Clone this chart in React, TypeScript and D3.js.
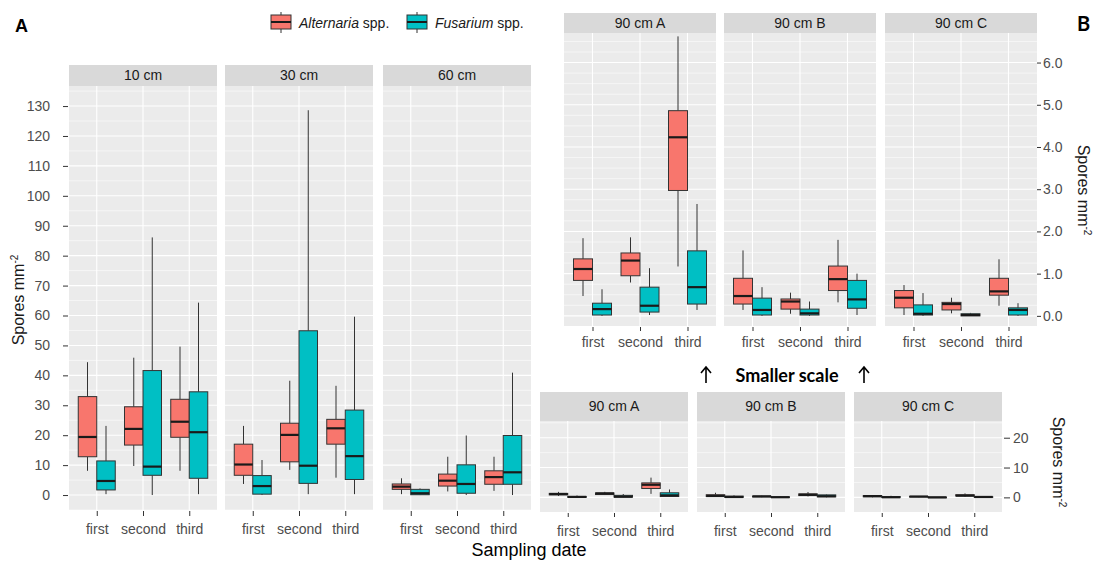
import React, { Component } from "react";
import * as d3 from "d3";

const dates = ["first", "second", "third"];
const species = ["Alternaria", "Fusarium"];

// each row: [lower whisker, Q1, median, Q3, upper whisker] for first, second, third
const alt10 = [[8.1, 12.8, 19.4, 32.9, 44.4], [9.7, 16.7, 22.1, 29.5, 45.9], [8.1, 19.3, 24.5, 32.0, 49.6]];
const fus10 = [[0.3, 1.7, 4.7, 11.4, 23.1], [0, 6.6, 9.5, 41.6, 86.1], [0.3, 5.6, 21.0, 34.5, 64.3]];
const alt30 = [[3.7, 6.6, 10.2, 17.0, 23.1], [8.4, 11.1, 20.1, 24.0, 38.2], [5.8, 17.0, 22.3, 25.3, 36.5]];
const fus30 = [[0, 0.3, 3.0, 6.5, 11.7], [0.3, 3.9, 9.8, 54.9, 128.6], [0.3, 5.2, 13.0, 28.4, 59.6]];
const alt60 = [[0.3, 1.9, 2.8, 3.7, 5.6], [1.2, 3.0, 4.8, 7.0, 12.8], [1.4, 3.6, 6.0, 8.1, 12.8]];
const fus60 = [[0, 0.1, 0.6, 1.9, 2.2], [0, 0.6, 3.7, 10.1, 19.9], [0, 3.6, 7.6, 19.9, 40.9]];
const alt90A = [[0.47, 0.84, 1.11, 1.35, 1.84], [0.79, 0.95, 1.31, 1.49, 1.86], [1.17, 2.97, 4.23, 4.86, 6.62]];
const fus90A = [[0, 0.02, 0.16, 0.3, 0.63], [0.02, 0.09, 0.24, 0.68, 1.13], [0.14, 0.28, 0.68, 1.54, 2.65]];
const alt90B = [[0.14, 0.28, 0.47, 0.89, 1.55], [0.05, 0.16, 0.34, 0.4, 0.55], [0.32, 0.6, 0.87, 1.18, 1.8]];
const fus90B = [[0, 0.02, 0.14, 0.42, 0.68], [0, 0.02, 0.06, 0.16, 0.34], [0.02, 0.18, 0.39, 0.84, 1.0]];
const alt90C = [[0.02, 0.19, 0.43, 0.6, 0.73], [0.06, 0.14, 0.28, 0.32, 0.43], [0.24, 0.49, 0.58, 0.89, 1.34]];
const fus90C = [[0, 0.02, 0.05, 0.26, 0.54], [0, 0, 0.02, 0.05, 0.07], [0, 0.02, 0.14, 0.19, 0.3]];

const ticksA = [0, 10, 20, 30, 40, 50, 60, 70, 80, 90, 100, 110, 120, 130];
const ticksB = [0, 1, 2, 3, 4, 5, 6];
const ticksBWide = [0, 10, 20];

const panelsA = [
  { name: "10 cm", alt: alt10, fus: fus10 },
  { name: "30 cm", alt: alt30, fus: fus30 },
  { name: "60 cm", alt: alt60, fus: fus60 },
];
const panels90 = [
  { name: "90 cm A", alt: alt90A, fus: fus90A },
  { name: "90 cm B", alt: alt90B, fus: fus90B },
  { name: "90 cm C", alt: alt90C, fus: fus90C },
];

const FILL = ["#F8766D", "#00BFC4"];
const FONT = "'Liberation Sans', Arial, sans-serif";

function styleAxis(g: any) {
  g.select(".domain").remove();
  g.selectAll(".tick line").attr("stroke", "#333");
  g.selectAll(".tick text")
    .attr("fill", "#4D4D4D")
    .attr("font-size", 14)
    .attr("font-family", FONT);
}

// one row of facets (background, grid, strip, boxes, x axis)
function drawFacets(svg: any, panels: any[], cfg: any) {
  const y = d3.scaleLinear().domain(cfg.yDomain).range([cfg.bottom, cfg.top]);
  const gridVals = d3.range(
    Math.ceil(cfg.yDomain[0] / cfg.minor) * cfg.minor,
    cfg.yDomain[1],
    cfg.minor
  );
  panels.forEach((p, i) => {
    const x0 = cfg.x0[i];
    const x = d3.scalePoint().domain(dates).range([x0, x0 + cfg.width]).padding(0.6);
    const step = x.step();
    const dodge = d3.scaleBand().domain(species).range([-step * 0.4, step * 0.4]);
    const bw = dodge.bandwidth();
    const g = svg.append("g");

    g.append("rect")
      .attr("x", x0)
      .attr("y", cfg.top)
      .attr("width", cfg.width)
      .attr("height", cfg.bottom - cfg.top)
      .attr("fill", "#EBEBEB");

    // grid
    g.selectAll(".hgrid")
      .data(gridVals)
      .enter()
      .append("line")
      .attr("x1", x0)
      .attr("x2", x0 + cfg.width)
      .attr("y1", (d: number) => y(d))
      .attr("y2", (d: number) => y(d))
      .attr("stroke", "#fff")
      .attr("stroke-width", (d: number) =>
        Math.abs(d / cfg.major - Math.round(d / cfg.major)) < 1e-6 ? 1.1 : 0.55
      );
    g.selectAll(".vgrid")
      .data(dates)
      .enter()
      .append("line")
      .attr("x1", (d: string) => x(d))
      .attr("x2", (d: string) => x(d))
      .attr("y1", cfg.top)
      .attr("y2", cfg.bottom)
      .attr("stroke", "#fff")
      .attr("stroke-width", 1.1);

    // strip
    g.append("rect")
      .attr("x", x0)
      .attr("y", cfg.stripTop)
      .attr("width", cfg.width)
      .attr("height", cfg.top - cfg.stripTop)
      .attr("fill", "#D9D9D9");
    g.append("text")
      .attr("x", x0 + cfg.width / 2)
      .attr("y", (cfg.stripTop + cfg.top) / 2)
      .attr("dy", "0.35em")
      .attr("text-anchor", "middle")
      .attr("font-size", 14)
      .attr("font-family", FONT)
      .attr("fill", "#1A1A1A")
      .text(p.name);

    // boxes
    species.forEach((s, k) => {
      const rows = k === 0 ? p.alt : p.fus;
      rows.forEach((r: number[], j: number) => {
        const cx = (x(dates[j]) as number) + (dodge(s) as number) + bw / 2;
        const [lo, q1, med, q3, hi] = r;
        const bg = g.append("g");
        bg.append("line")
          .attr("x1", cx).attr("x2", cx)
          .attr("y1", y(hi)).attr("y2", y(q3))
          .attr("stroke", "#333").attr("stroke-width", 1);
        bg.append("line")
          .attr("x1", cx).attr("x2", cx)
          .attr("y1", y(q1)).attr("y2", y(lo))
          .attr("stroke", "#333").attr("stroke-width", 1);
        bg.append("rect")
          .attr("x", cx - bw / 2)
          .attr("y", y(q3))
          .attr("width", bw)
          .attr("height", Math.max(0.5, y(q1) - y(q3)))
          .attr("fill", FILL[k])
          .attr("stroke", "#333")
          .attr("stroke-width", 1);
        bg.append("line")
          .attr("x1", cx - bw / 2).attr("x2", cx + bw / 2)
          .attr("y1", y(med)).attr("y2", y(med))
          .attr("stroke", "#1A1A1A").attr("stroke-width", 2.2);
      });
    });

    // x axis
    g.append("g")
      .attr("transform", "translate(0," + cfg.axisY + ")")
      .call(d3.axisBottom(x).tickSize(cfg.tickLen).tickPadding(cfg.tickPad))
      .call(styleAxis);
  });
  return y;
}

function yTitle(svg: any, x: number, y: number, angle: number) {
  const t = svg
    .append("text")
    .attr("transform", `translate(${x},${y}) rotate(${angle})`)
    .attr("text-anchor", "middle")
    .attr("dy", "0.35em")
    .attr("font-size", 16)
    .attr("font-family", FONT)
    .attr("fill", "#1A1A1A");
  t.append("tspan").text("Spores mm");
  t.append("tspan").attr("font-size", 10).attr("dy", -6).text("-2");
}

function arrowUp(svg: any, x: number, y1: number, y2: number) {
  svg.append("path")
    .attr("d", `M${x},${y1}V${y2}M${x - 5},${y2 + 6}L${x},${y2}L${x + 5},${y2 + 6}`)
    .attr("fill", "none")
    .attr("stroke", "#000")
    .attr("stroke-width", 1.6);
}

export default class App extends Component {
  chartRef: any;
  componentDidMount() {
    document.body.style.margin = "0";
    const svg = d3.select(this.chartRef);
    svg.selectAll("*").remove();

    // 左侧 A: 10/30/60 cm
    const yA = drawFacets(svg, panelsA, {
      x0: [69, 225, 383], width: 148, stripTop: 65, top: 86, bottom: 510,
      yDomain: [-5, 136.7], minor: 5, major: 10,
      axisY: 511, tickLen: 5, tickPad: 8,
    });
    svg.append("g")
      .attr("transform", "translate(68,0)")
      .call(d3.axisLeft(yA).tickValues(ticksA).tickSize(5).tickPadding(13))
      .call(styleAxis);

    // 右上 B: 90 cm, small scale
    const yB = drawFacets(svg, panels90, {
      x0: [564, 724, 885], width: 152, stripTop: 13, top: 33, bottom: 326,
      yDomain: [-0.24, 6.7], minor: 0.25, major: 1,
      axisY: 327, tickLen: 4, tickPad: 6,
    });
    svg.append("g")
      .attr("transform", "translate(1037,0)")
      .call(d3.axisRight(yB).tickValues(ticksB).tickFormat(d3.format(".1f")).tickSize(4).tickPadding(2))
      .call(styleAxis);

    // 右下: 90 cm, same scale as A
    const yC = drawFacets(svg, panels90, {
      x0: [540, 697, 854], width: 148, stripTop: 392, top: 421, bottom: 512,
      yDomain: [-4.9, 25.6], minor: 5, major: 10,
      axisY: 513, tickLen: 4, tickPad: 9,
    });
    svg.append("g")
      .attr("transform", "translate(1004,0)")
      .call(d3.axisRight(yC).tickValues(ticksBWide).tickSize(6).tickPadding(3))
      .call(styleAxis);

    // 轴标题
    yTitle(svg, 18, 300, -90);
    yTitle(svg, 1084, 190, 90);
    yTitle(svg, 1059, 462, 90);
    svg.append("text")
      .attr("x", 529)
      .attr("y", 556)
      .attr("text-anchor", "middle")
      .attr("font-size", 18)
      .attr("font-family", FONT)
      .attr("fill", "#000")
      .text("Sampling date");

    // 面板字母
    svg.append("text")
      .attr("x", 15).attr("y", 32)
      .attr("font-size", 18).attr("font-weight", 700)
      .attr("font-family", FONT)
      .text("A");
    svg.append("text")
      .attr("x", 1077).attr("y", 31)
      .attr("font-size", 20).attr("font-weight", 700)
      .attr("font-family", "Lato, sans-serif")
      .text("B");

    // Smaller scale note
    arrowUp(svg, 706, 383, 367);
    arrowUp(svg, 864, 383, 367);
    svg.append("text")
      .attr("x", 787).attr("y", 382)
      .attr("text-anchor", "middle")
      .attr("font-size", 18).attr("font-weight", 700)
      .attr("font-family", "Lato, sans-serif")
      .text("Smaller scale");

    // 图例
    const legendX = [271, 407];
    species.forEach((s, k) => {
      const lx = legendX[k];
      const lg = svg.append("g");
      lg.append("line")
        .attr("x1", lx + 10).attr("x2", lx + 10)
        .attr("y1", 12).attr("y2", 33)
        .attr("stroke", "#333");
      lg.append("rect")
        .attr("x", lx).attr("y", 15)
        .attr("width", 20).attr("height", 14)
        .attr("fill", FILL[k]).attr("stroke", "#333");
      lg.append("line")
        .attr("x1", lx).attr("x2", lx + 20)
        .attr("y1", 22).attr("y2", 22)
        .attr("stroke", "#1A1A1A").attr("stroke-width", 2);
      const t = lg.append("text")
        .attr("x", lx + 28).attr("y", 28)
        .attr("font-size", 14)
        .attr("font-family", FONT)
        .attr("fill", "#1A1A1A");
      t.append("tspan").attr("font-style", "italic").text(s);
      t.append("tspan").text(" spp.");
    });
  }
  render() {
    return (
      <div style={{ width: 1094, height: 562 }}>
        <svg ref={(r) => (this.chartRef = r)} width={1094} height={562}></svg>
      </div>
    );
  }
}
